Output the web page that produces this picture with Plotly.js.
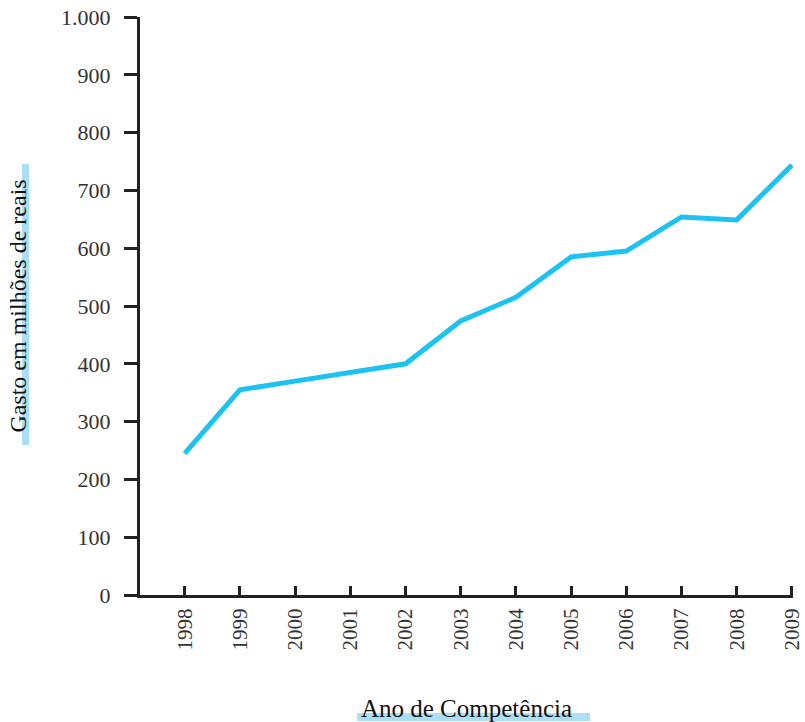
<!DOCTYPE html>
<html>
<head>
<meta charset="utf-8">
<script src="https://cdn.plot.ly/plotly-3.0.1.min.js"></script>
<style>html,body{margin:0;padding:0;background:#fff;}#chart{width:805px;height:722px;}</style>
</head>
<body>
<div id="chart"></div>
<script>
const years = [1998, 1999, 2000, 2001, 2002, 2003, 2004, 2005, 2006, 2007, 2008, 2009];
const gasto = [245, 355, 370, 385, 400, 474, 515, 585, 595, 654, 649, 744];
const yTicks = [0, 100, 200, 300, 400, 500, 600, 700, 800, 900, 1000];
const xTitle = 'Ano de Competência';
const yTitle = 'Gasto em milhões de reais';

const font = 'Liberation Serif, Times New Roman, serif';
const textColor = '#333333';

const trace = {
  x: years,
  y: gasto,
  type: 'scatter',
  mode: 'lines',
  line: {color: '#1cc3f0', width: 5},
  hoverinfo: 'x+y'
};

const plotW = 805 - 140 - 12;

const layout = {
  width: 805,
  height: 722,
  margin: {l: 140, r: 12, t: 17, b: 127},
  paper_bgcolor: '#ffffff',
  plot_bgcolor: '#ffffff',
  separators: ',.',
  showlegend: false,
  font: {family: font, color: textColor, size: 20},
  xaxis: {
    range: [1998 - 0.81, 2009.02],
    tickvals: years,
    ticktext: years.map(String),
    tickangle: -90,
    ticks: 'inside',
    ticklen: 9,
    tickwidth: 2.5,
    tickcolor: '#222',
    showline: true,
    linecolor: '#222',
    linewidth: 3,
    showgrid: false,
    zeroline: false,
    ticklabelstandoff: 2,
    ticklabeloverflow: 'allow',
    tickfont: {family: font, size: 21, color: textColor},
    title: {text: xTitle, standoff: 58, font: {family: font, size: 25, color: '#111'}},
    automargin: false,
    fixedrange: true
  },
  yaxis: {
    range: [0, 1000],
    tickvals: yTicks,
    tickformat: ',d',
    ticks: 'outside',
    ticklen: 13,
    tickwidth: 2.5,
    tickcolor: '#222',
    showline: true,
    linecolor: '#222',
    linewidth: 3,
    showgrid: false,
    zeroline: false,
    ticklabelstandoff: 9,
    tickfont: {family: font, size: 22, color: textColor},
    title: {text: yTitle, standoff: 28, font: {family: font, size: 24, color: '#111'}},
    automargin: false,
    fixedrange: true
  },
  shapes: [
    {type: 'rect', xref: 'paper', yref: 'paper', layer: 'below',
     x0: (22 - 140) / plotW, x1: (29 - 140) / plotW,
     y0: (595 - 445) / 578, y1: (595 - 164) / 578,
     fillcolor: '#aadff7', line: {width: 0}},
    {type: 'rect', xref: 'paper', yref: 'paper', layer: 'below',
     x0: (357 - 140) / plotW, x1: (590 - 140) / plotW,
     y0: (595 - 721) / 578, y1: (595 - 713) / 578,
     fillcolor: '#aadff7', line: {width: 0}}
  ]
};

Plotly.newPlot('chart', [trace], layout, {displayModeBar: false});
</script>
</body>
</html>
